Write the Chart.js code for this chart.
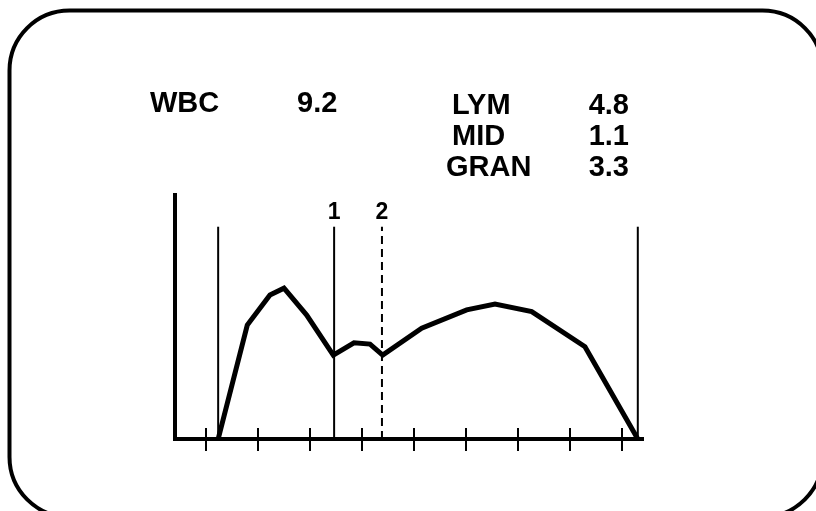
<!DOCTYPE html>
<html>
<head>
<meta charset="utf-8">
<script src="https://cdn.jsdelivr.net/npm/chart.js@4.4.0/dist/chart.umd.min.js"></script>
<style>
  html, body { margin: 0; padding: 0; background: #fff; overflow: hidden; }
  #wrap { width: 816px; height: 511px; }
</style>
</head>
<body>
<div id="wrap"><canvas id="histChart" width="816" height="511"></canvas></div>
<script>
// histogram curve (volume, count)
const volumes = [61.5, 89.5, 111.3, 124.8, 146.6, 172.2, 192.1, 207.5, 219.7, 257.2, 300.5, 327.7, 363, 414.2, 465];
const counts = [0, 46.7, 59, 61.8, 50.8, 34.4, 39.4, 38.9, 34.4, 45.4, 52.9, 55.3, 52.2, 37.8, 0];
const tickValues = [50, 100, 150, 200, 250, 300, 350, 400, 450];

// discriminator lines
const markerVolumes = [61.5, 173, 219, 465];
const markerLabels = ['', '1', '2', ''];
const markerDashed = [false, false, true, false];
const markerHeight = 87;

// results
const wbcLabel = 'WBC';
const wbcValue = '9.2';
const diffLabels = ['LYM', 'MID', 'GRAN'];
const diffValues = ['4.8', '1.1', '3.3'];

const FONT = '"Liberation Sans", Arial, sans-serif';

document.addEventListener("DOMContentLoaded", function () {
    const ctx = document.getElementById('histChart');

    const curve = volumes.map((v, i) => ({ x: v, y: counts[i] }));

    const markerSets = markerVolumes.map((v, i) => ({
        data: [{ x: v, y: 0 }, { x: v, y: markerHeight }],
        borderColor: '#000',
        borderWidth: 2,
        borderDash: markerDashed[i] ? [8, 5] : [],
        pointRadius: 0,
        tension: 0
    }));

    const decor = {
        id: 'decor',
        afterDraw(chart) {
            const c = chart.ctx;
            const xs = chart.scales.x;
            const ys = chart.scales.y;
            const base = ys.getPixelForValue(0);
            c.save();

            // tick marks crossing the axis
            c.strokeStyle = '#000';
            c.lineWidth = 2;
            xs.ticks.forEach(t => {
                const px = Math.round(xs.getPixelForValue(t.value));
                c.beginPath();
                c.moveTo(px, base - 11);
                c.lineTo(px, base + 12);
                c.stroke();
            });

            // marker labels
            c.fillStyle = '#000';
            c.font = 'bold 23px ' + FONT;
            c.textAlign = 'center';
            c.textBaseline = 'alphabetic';
            markerVolumes.forEach((v, i) => {
                if (markerLabels[i]) {
                    c.fillText(markerLabels[i], xs.getPixelForValue(v), 219);
                }
            });

            // result text
            c.font = 'bold 29px ' + FONT;
            c.textAlign = 'left';
            c.fillText(wbcLabel, 150, 112);
            c.fillText(wbcValue, 297, 112);
            diffLabels.forEach((lab, i) => {
                c.textAlign = 'left';
                c.fillText(lab, i === 2 ? 446 : 452, 114 + i * 31);
                c.textAlign = 'right';
                c.fillText(diffValues[i], 629, 114 + i * 31);
            });

            // rounded frame
            c.lineWidth = 4;
            c.beginPath();
            c.roundRect(9.5, 10.5, 813, 506.5, 60);
            c.stroke();
            c.restore();
        }
    };

    new Chart(ctx, {
        type: 'line',
        data: {
            datasets: [{
                data: curve,
                borderColor: '#000',
                borderWidth: 5,
                pointRadius: 0,
                tension: 0
            }].concat(markerSets)
        },
        options: {
            responsive: false,
            animation: false,
            layout: { padding: { left: 167, top: 195, right: 173, bottom: 64 } },
            plugins: {
                legend: { display: false },
                tooltip: { enabled: false }
            },
            scales: {
                x: {
                    type: 'linear',
                    min: 20,
                    max: 470,
                    afterBuildTicks: scale => {
                        scale.ticks = tickValues.map(v => ({ value: v }));
                    },
                    ticks: { display: false },
                    grid: { display: false },
                    border: { display: true, width: 4, color: '#000' }
                },
                y: {
                    min: 0,
                    max: 100,
                    ticks: { display: false },
                    grid: { display: false },
                    border: { display: true, width: 4, color: '#000' }
                }
            }
        },
        plugins: [decor]
    });
});
</script>
</body>
</html>
